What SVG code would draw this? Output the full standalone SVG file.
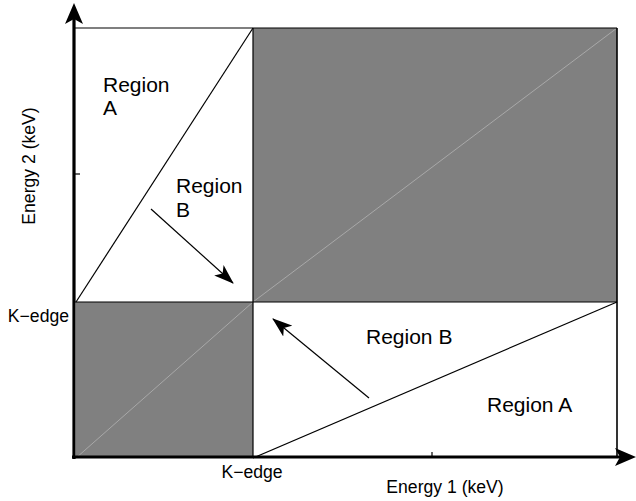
<svg xmlns="http://www.w3.org/2000/svg" width="636" height="501" viewBox="0 0 636 501">
<style>
.t{font-family:"Liberation Sans",Arial,sans-serif;fill:#000}
.big{font-size:21px}
.ax{font-size:17.6px}
.ln{stroke:#000;stroke-width:1.2;fill:none}
.gray{fill:#808080;stroke:none}
.diag{stroke:#a8a8a8;stroke-width:1;fill:none}
</style>
<defs>
<marker id="ah" viewBox="0 0 20 14" refX="19" refY="7" markerWidth="20" markerHeight="14" markerUnits="userSpaceOnUse" orient="auto">
<path d="M0,0 L20,7 L0,14 L5,7 Z" fill="#000"/>
</marker>
</defs>
<rect x="0" y="0" width="636" height="501" fill="#fff"/>
<g id="regions">
<rect class="gray" x="253" y="28" width="364" height="274"/>
<rect class="gray" x="76" y="302" width="177" height="156"/>
<line class="diag" x1="76" y1="458" x2="253" y2="302"/>
<line class="diag" x1="253" y1="302" x2="617" y2="28"/>
</g>
<g id="frame">
<line class="ln" x1="74" y1="28" x2="617" y2="28"/>
<line class="ln" x1="617" y1="28" x2="617" y2="458" style="stroke-width:1.6"/>
<line class="ln" x1="74" y1="302" x2="617" y2="302"/>
<line class="ln" x1="253" y1="28" x2="253" y2="458"/>
<line class="ln" x1="76" y1="302" x2="253" y2="28"/>
<line class="ln" x1="253" y1="458" x2="617" y2="302"/>
<line class="ln" x1="74" y1="174" x2="80" y2="174"/>
<line class="ln" x1="432" y1="452" x2="432" y2="458"/>
</g>
<g id="axes">
<line x1="74" y1="459" x2="74" y2="14" stroke="#000" stroke-width="3.2"/>
<path d="M74,3 L83,24 L74,19 L65,24 Z" fill="#000"/>
<line x1="72" y1="457" x2="624" y2="457" stroke="#000" stroke-width="3.2"/>
<path d="M636,457 L615,466 L620,457 L615,448 Z" fill="#000"/>
</g>
<g id="connectors">
<line class="ln" x1="151" y1="209" x2="233" y2="283" marker-end="url(#ah)"/>
<line class="ln" x1="369" y1="398" x2="273" y2="319" marker-end="url(#ah)"/>
</g>
<g id="labels">
<text class="t big" x="103" y="92">Region</text>
<text class="t big" x="103" y="115">A</text>
<text class="t big" x="176" y="193">Region</text>
<text class="t big" x="176" y="217">B</text>
<text class="t big" x="366" y="344">Region B</text>
<text class="t big" x="487" y="412">Region A</text>
<text class="t ax" x="69" y="322" text-anchor="end">K−edge</text>
<text class="t ax" x="252" y="478" text-anchor="middle">K−edge</text>
<text class="t ax" x="445" y="493" text-anchor="middle">Energy 1 (keV)</text>
<text class="t ax" transform="translate(35,166) rotate(-90)" text-anchor="middle">Energy 2 (keV)</text>
</g>
</svg>
